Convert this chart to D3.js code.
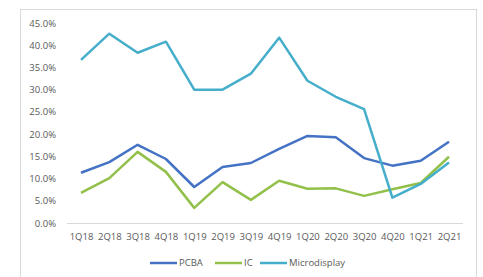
<!DOCTYPE html>
<html><head><meta charset="utf-8">
<script src="https://cdn.jsdelivr.net/npm/d3@7"></script>
<style>body{margin:0;background:#fff}svg{display:block}text{font-family:"Open Sans",sans-serif;fill:#595959}</style>
</head><body><svg id="c" width="483" height="277"></svg>
<script>
const categories=["1Q18","2Q18","3Q18","4Q18","1Q19","2Q19","3Q19","4Q19","1Q20","2Q20","3Q20","4Q20","1Q21","2Q21"];
const pcba=[11.3,13.7,17.6,14.4,8.1,12.6,13.5,16.7,19.6,19.3,14.6,12.9,14.0,18.3];
const ic=[6.8,10.1,16.0,11.5,3.4,9.2,5.2,9.5,7.7,7.8,6.1,7.6,9.0,14.9];
const micro=[36.7,42.6,38.3,40.8,30.0,30.0,33.6,41.7,32.0,28.4,25.6,5.7,8.8,13.6];
const yTicks=[0,5,10,15,20,25,30,35,40,45];
const series=[{name:"PCBA",values:pcba,color:"#4472C4"},{name:"IC",values:ic,color:"#92C04A"},{name:"Microdisplay",values:micro,color:"#45AECB"}];

const svg=d3.select("#c");
svg.append("rect").attr("x",20.5).attr("y",9.5).attr("width",456).attr("height",280).attr("fill","none").attr("stroke","#d9d9d9");
const x=d3.scalePoint().domain(categories).range([81,449]);
const y=d3.scaleLinear().domain([0,45]).range([223,23]);
svg.append("line").attr("x1",67).attr("x2",463).attr("y1",223.5).attr("y2",223.5).attr("stroke","#d9d9d9");
const ya=svg.append("g").attr("transform","translate(56,0)").call(d3.axisLeft(y).tickValues(yTicks).tickSize(0).tickPadding(0).tickFormat(d=>d.toFixed(1)+"%"));
ya.select(".domain").remove();
ya.selectAll("text").style("font-size","9.5px").attr("fill","#595959");
const xa=svg.append("g").attr("transform","translate(0,233)").call(d3.axisBottom(x).tickSize(0).tickPadding(0));
xa.select(".domain").remove();
xa.selectAll("text").style("font-size","9.5px").attr("fill","#595959");
const line=d3.line().x((d,i)=>x(categories[i])).y(d=>y(d));
series.forEach(s=>{
  svg.append("path").datum(s.values).attr("d",line).attr("fill","none").attr("stroke",s.color).attr("stroke-width",2.5).attr("stroke-linejoin","round");
});
const legX=[150,215,260];
series.forEach((s,i)=>{
  const g=svg.append("g").attr("transform",`translate(${legX[i]},263)`);
  g.append("line").attr("x1",0).attr("x2",27).attr("stroke",s.color).attr("stroke-width",2.5);
  g.append("text").attr("x",29).attr("dy","0.35em").style("font-size","9.5px").text(s.name);
});
</script></body></html>
